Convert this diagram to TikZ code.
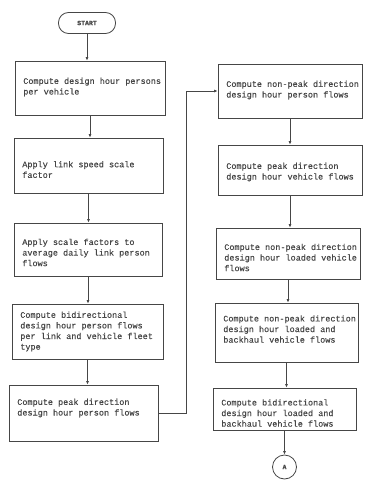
\documentclass[tikz,border=0pt]{standalone}
\usepackage{fontspec}
\usetikzlibrary{arrows.meta}
\newfontfamily\flowmono[FakeBold=0.4]{Liberation Mono}
\definecolor{ink}{RGB}{70,70,70}
\begin{document}
\begin{tikzpicture}[x=1pt,y=-1pt,
  flowbox/.style={draw=ink, line width=0.8pt, rectangle, inner sep=0pt},
  txt/.style={font=\flowmono\fontsize{8.5}{10.6}\selectfont, text=ink, align=left, inner sep=0pt},
  boxtext/.style 2 args={label={[txt, anchor=west, xshift=8.5pt, yshift=#1]west:#2}},
  terminal/.style={draw=ink, line width=0.8pt, rounded corners=10pt, minimum width=57pt,
    minimum height=21pt, inner sep=0pt, font=\flowmono\bfseries\fontsize{6.5}{8}\selectfont, text=ink},
  connector/.style={draw=ink, line width=0.8pt, circle, minimum size=24pt, inner sep=0pt,
    font=\flowmono\bfseries\fontsize{6.5}{8}\selectfont, text=ink},
  flowline/.style={draw=ink, line width=0.8pt, -{Latex[length=3.5pt,width=3pt]}}]
\useasboundingbox (0,0) rectangle (364,487);

% left column
\node[terminal] (start) at (87,23) {START};
\node[flowbox, minimum width=150pt, minimum height=54pt,
  boxtext={1pt}{Compute design hour persons\\per vehicle}] (b1) at (90,88) {};
\node[flowbox, minimum width=149pt, minimum height=55pt,
  boxtext={-4pt}{Apply link speed scale\\factor}] (b2) at (88.5,165.5) {};
\node[flowbox, minimum width=148pt, minimum height=53pt,
  boxtext={-3pt}{Apply scale factors to\\average daily link person\\flows}] (b3) at (88,249.5) {};
\node[flowbox, minimum width=151pt, minimum height=55pt,
  boxtext={0pt}{Compute bidirectional\\design hour person flows\\per link and vehicle fleet\\type}] (b4) at (87.5,331.5) {};
\node[flowbox, minimum width=149pt, minimum height=56pt,
  boxtext={5pt}{Compute peak direction\\design hour person flows}] (b5) at (83.5,413) {};

% right column
\node[flowbox, minimum width=144pt, minimum height=54pt,
  boxtext={1pt}{Compute non-peak direction\\design hour person flows}] (b6) at (290,91) {};
\node[flowbox, minimum width=144pt, minimum height=50pt,
  boxtext={-2pt}{Compute peak direction\\design hour vehicle flows}] (b7) at (290,170) {};
\node[flowbox, minimum width=144pt, minimum height=51pt,
  boxtext={-4pt}{Compute non-peak direction\\design hour loaded vehicle\\flows}] (b8) at (288,253.5) {};
\node[flowbox, minimum width=143pt, minimum height=59pt,
  boxtext={3.5pt}{Compute non-peak direction\\design hour loaded and\\backhaul vehicle flows}] (b9) at (286.5,332.5) {};
\node[flowbox, minimum width=143pt, minimum height=42pt,
  boxtext={-4pt}{Compute bidirectional\\design hour loaded and\\backhaul vehicle flows}] (b10) at (284.5,409) {};
\node[connector] (A) at (284.5,467) {A};

% flow lines
\draw[flowline] (start.south) -- (start.south |- b1.north);
\draw[flowline] (b1.south) -- (b1.south |- b2.north);
\draw[flowline] (b2.south) -- (b2.south |- b3.north);
\draw[flowline] (b3.south) -- (b3.south |- b4.north);
\draw[flowline] (b4.south) -- (b4.south |- b5.north);
\draw[flowline] (b5.east) -- ++(28,0) |- (b6.west);
\draw[flowline] (b6.south) -- (b6.south |- b7.north);
\draw[flowline] (b7.south) -- (b7.south |- b8.north);
\draw[flowline] (b8.south) -- (b8.south |- b9.north);
\draw[flowline] (b9.south) -- (b9.south |- b10.north);
\draw[flowline] (b10.south) -- (A.north);
\end{tikzpicture}
\end{document}
